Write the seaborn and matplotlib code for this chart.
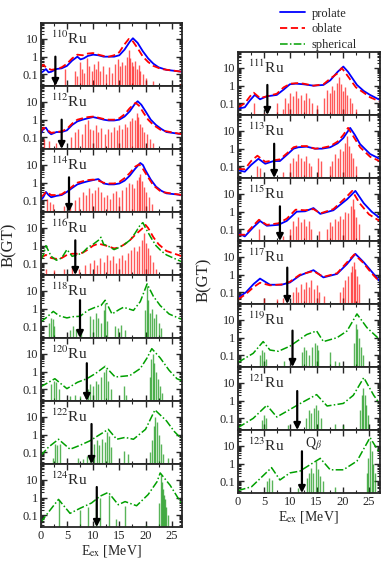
import matplotlib
matplotlib.use("Agg")
import matplotlib.pyplot as plt
import matplotlib.ticker as mticker
from matplotlib.lines import Line2D
import pandas as pd
import seaborn as sns

# ---- data: (E_ex [MeV], B(GT)) ----
ru110_prolate = [(0,0.12),(0.5,0.15),(1,0.2),(1.5,0.13),(2,0.14),(3,0.2),(4,0.22),(5,0.3),(6,0.6),(7,1.0),(7.6,0.7),(8.2,0.8),(9,1.1),(10,1.3),(11,1.2),(12,1.0),(13,1.0),(14,1.0),(15,1.2),(16,2.5),(17,7),(17.6,11),(18.5,6),(19.5,2),(20.5,0.8),(21.5,0.4),(22.5,0.25),(24,0.18),(27,0.14)]
ru110_oblate = [(0,0.25),(0.5,0.35),(1,0.25),(2,0.18),(3,0.2),(4,0.25),(5,0.4),(6,0.8),(7,1.3),(8,1.2),(9,1.5),(10,1.6),(11,1.3),(12,1.1),(13,1.0),(14,1.2),(15,1.8),(16,5),(16.8,10),(17.5,8),(18.5,3),(19.5,1),(20.5,0.5),(21.5,0.3),(23,0.2),(27,0.14)]
ru110_bars = [(2.8,0.03),(4.6,0.2),(6.6,0.15),(7.0,0.08),(7.5,0.5),(7.8,0.2),(8.3,0.12),(8.9,0.8),(9.3,0.3),(9.8,0.15),(10.2,0.4),(10.6,0.2),(11.0,0.6),(11.4,0.15),(11.9,0.3),(12.5,0.1),(13.0,0.25),(13.6,0.12),(14.2,0.4),(14.8,0.7),(15.2,0.3),(15.6,0.5),(16.0,0.35),(16.4,1.0),(16.8,2.4),(17.1,0.8),(17.4,0.5),(17.7,0.3),(18.0,0.6),(18.3,0.2),(18.7,0.35),(19.0,0.15),(19.5,0.1),(20.0,0.06),(21.5,0.04),(26.5,0.03)]
ru110_qb = (2.8, 1.0)

ru112_prolate = [(0,0.15),(0.5,0.3),(1,0.35),(1.5,0.2),(2,0.15),(3,0.2),(4,0.2),(5,0.25),(6,0.5),(7,0.8),(8,1.0),(9,1.2),(10,1.4),(11,1.2),(12,1.0),(13,0.9),(14,0.9),(15,1.0),(16,1.5),(17,3),(18,8),(18.5,11),(19.2,7),(20,3),(21,1),(22,0.5),(23,0.3),(24,0.2),(27,0.15)]
ru112_oblate = [(0,0.2),(0.5,0.35),(1,0.3),(2,0.18),(3,0.2),(4,0.22),(5,0.3),(6,0.6),(7,1.0),(8,1.2),(9,1.4),(10,1.5),(11,1.3),(12,1.1),(13,1.0),(14,1.0),(15,1.2),(16,2),(17,4.5),(18.1,9),(18.8,6),(19.6,2.5),(20.5,1.0),(21.5,0.5),(23,0.25),(27,0.15)]
ru112_bars = [(0.6,0.08),(1.5,0.06),(3.0,0.05),(5.8,0.1),(6.5,0.2),(7.2,0.3),(7.8,0.15),(8.5,0.6),(9.0,1.0),(9.4,0.3),(10.0,0.25),(10.5,0.5),(11.0,0.2),(11.6,0.35),(12.2,0.15),(12.8,0.3),(13.4,0.2),(14.0,0.4),(14.5,0.25),(15.0,0.5),(15.5,0.3),(16.0,0.6),(16.5,0.4),(17.0,0.8),(17.5,1.2),(17.9,1.0),(18.3,2.5),(18.6,1.5),(19.0,0.6),(19.4,0.4),(19.8,0.2),(20.3,0.15),(20.8,0.08),(21.5,0.05)]
ru112_qb = (4.0, 1.0)

ru114_prolate = [(0,0.1),(0.5,0.15),(1,0.3),(1.5,0.2),(2,0.15),(3,0.18),(4,0.2),(5,0.3),(6,0.5),(7,0.8),(8,1.0),(9,1.2),(10,1.4),(11,1.6),(11.5,1.2),(12,0.9),(13,0.8),(14,0.8),(15,0.9),(16,1.3),(17,2.5),(18,6),(19,13),(19.5,10),(20,5),(21,1.5),(22,0.6),(23,0.35),(24,0.25),(27,0.2)]
ru114_oblate = [(0,0.15),(0.5,0.2),(1,0.3),(1.5,0.25),(2,0.2),(3,0.2),(4,0.22),(5,0.35),(6,0.6),(7,1.0),(8,1.2),(9,1.4),(10,1.5),(11,1.3),(12,1.0),(13,0.9),(14,0.9),(15,1.1),(16,1.8),(17,3.5),(18,8),(18.8,11),(19.5,6),(20.5,2),(21.5,0.7),(23,0.3),(27,0.2)]
ru114_bars = [(1.2,0.12),(1.8,0.08),(2.4,0.06),(4.5,0.05),(5.5,0.05),(6.5,0.1),(7.3,0.15),(8.0,0.3),(8.6,0.2),(9.2,0.5),(9.8,0.25),(10.4,0.4),(11.0,0.6),(11.5,0.3),(12.0,0.15),(12.6,0.2),(13.2,0.12),(13.8,0.25),(14.4,0.35),(15.0,0.15),(15.6,0.4),(16.2,0.6),(16.8,1.0),(17.4,0.8),(17.8,0.5),(18.3,1.5),(18.7,2.0),(19.0,3.0),(19.3,1.2),(19.7,0.6),(20.1,0.3),(20.6,0.15),(21.2,0.06)]
ru114_qb = (5.4, 2.0)

ru116_oblate = [(0,0.2),(0.5,0.25),(1,0.3),(2,0.2),(3,0.18),(4,0.2),(5,0.3),(6,0.35),(7,0.35),(8,0.4),(9,0.6),(10,1.0),(11,1.3),(12,1.1),(13,0.9),(14,0.7),(15,0.8),(16,1.2),(17,2),(18,4),(19.5,10),(20,15),(20.5,10),(21.5,3),(22.5,1.2),(24,0.5),(27,0.25)]
ru116_spherical = [(0,0.15),(0.5,0.3),(1,1.0),(1.5,0.5),(2,0.25),(3,0.15),(4,0.2),(5,0.6),(5.5,0.4),(6,0.25),(7,0.3),(8,0.4),(9,0.8),(10,1.2),(11,2),(11.5,3),(12,1.2),(13,0.9),(14,0.6),(15,0.8),(16,1.2),(17,2),(18,5),(19,15),(19.5,20),(20,10),(21,3),(22,1.0),(23,0.5),(24,0.3),(27,0.12)]
ru116_bars = [(1.0,0.05),(2.5,0.04),(4.5,0.05),(6.0,0.06),(7.3,0.05),(8.4,0.08),(9.5,0.1),(10.2,0.15),(10.8,0.08),(11.4,0.2),(12.0,0.12),(12.6,0.3),(13.2,0.15),(13.8,0.25),(14.3,0.1),(14.9,0.2),(15.5,0.3),(16.0,0.15),(16.6,0.4),(17.2,0.6),(17.8,0.8),(18.3,0.5),(18.8,1.0),(19.3,2.0),(19.7,5.0),(20.0,1.5),(20.4,0.7),(20.9,0.3),(21.4,0.12),(22.0,0.05)]
ru116_qb = (6.6, 2.0)

ru118_spherical = [(0,0.18),(1,0.3),(2.4,0.7),(3.5,0.4),(5,0.3),(6,0.35),(7.5,0.37),(9,0.8),(10.4,1.2),(11.5,1.5),(12.3,3),(13.6,0.5),(15,0.9),(15.8,1.2),(17.7,0.8),(19,2.5),(20.3,25),(21.5,5),(22.8,1.5),(24.5,0.5),(26.6,0.27),(27,0.25)]
ru118_bars = [(1.5,0.15),(1.9,0.3),(2.3,0.25),(2.6,0.1),(5.6,0.06),(6.2,0.1),(6.8,0.07),(7.6,0.05),(9.5,0.4),(10.0,0.25),(10.5,0.6),(11.0,0.3),(11.5,0.15),(12.0,0.8),(12.3,2.0),(12.7,0.2),(14.2,0.1),(14.7,0.08),(15.3,0.12),(16.0,0.06),(19.9,0.8),(20.2,20.0),(20.5,3.0),(20.8,0.6),(21.2,1.0),(21.6,0.3),(22.0,0.5),(22.5,0.15),(23.0,0.08)]
ru118_qb = (7.5, 3.0)

ru120_spherical = [(0,0.14),(1.5,0.25),(2.7,0.4),(5,0.11),(7,0.25),(8.8,0.4),(10.5,0.8),(12.3,2),(14.2,0.5),(17,0.6),(19,1.5),(20.3,6),(21.2,20),(22.8,6),(24.5,1.2),(26,0.4),(27,0.3)]
ru120_bars = [(2.0,0.2),(2.5,0.3),(3.0,0.25),(3.4,0.1),(5.5,0.04),(6.5,0.05),(7.5,0.04),(9.0,0.1),(9.5,0.2),(10.0,0.15),(10.5,0.3),(11.0,0.2),(11.5,0.5),(12.0,1.0),(12.4,1.5),(12.8,0.3),(13.5,0.1),(15.8,0.15),(16.3,0.05),(20.8,0.5),(21.1,5.0),(21.4,10.0),(21.7,3.0),(22.0,1.0),(22.3,0.4),(22.7,0.15),(23.2,0.06)]
ru120_qb = (8.8, 3.0)

ru122_spherical = [(0,0.065),(1.5,0.2),(3.4,0.55),(5.6,0.15),(7.5,0.25),(9.4,0.45),(11,0.9),(12.9,2),(14.5,0.55),(16.1,0.7),(17.7,0.55),(20,2),(21.8,25),(24,6),(25.5,1.5),(26.6,0.7),(27,0.6)]
ru122_bars = [(2.4,0.05),(2.8,0.3),(3.2,0.25),(3.6,0.3),(7.2,0.05),(8.0,0.04),(8.8,0.06),(9.5,0.05),(10.2,0.3),(10.7,0.5),(11.2,0.25),(11.7,0.6),(12.2,0.4),(12.6,1.5),(13.0,0.8),(13.4,0.2),(15.8,0.12),(16.6,0.08),(20.8,0.1),(21.2,0.5),(21.6,3.0),(21.9,10.0),(22.2,5.0),(22.5,1.0),(22.9,0.3),(23.4,0.08),(24.2,0.05)]
ru122_qb = (9.7, 4.0)

ru124_spherical = [(0,0.04),(1.8,0.2),(3.4,0.8),(5.6,0.13),(7.5,0.25),(9.7,0.5),(11.3,1.2),(12.9,2),(14.8,0.4),(16.1,0.6),(18.3,0.35),(20.5,1.5),(22.2,8),(22.8,25),(24.7,5),(26,1.2),(27,0.4)]
ru124_bars = [(3.5,0.7),(7.5,0.2),(9.0,0.3),(10.6,0.5),(11.4,1.0),(13.0,1.5),(14.4,0.06),(16.0,0.35),(20.0,0.03),(22.6,0.5),(22.9,20.0),(23.1,8.0),(23.3,3.0),(23.5,1.5),(23.7,0.8),(23.9,0.3),(24.2,0.1)]
ru124_qb = (10.7, 4.0)

ru111_prolate = [(0,0.05),(1.3,0.06),(2.3,0.15),(3.2,0.3),(4.2,0.17),(5.5,0.25),(7.4,0.3),(8.7,0.6),(9.9,1.2),(11,1.3),(12.5,1.2),(14.4,1.0),(16.3,1.1),(17.6,2),(19,6),(20.1,12),(21,6),(22.7,1.1),(24,0.5),(25.2,0.3),(27,0.16)]
ru111_oblate = [(0,0.06),(1.3,0.1),(2.3,0.25),(3,0.4),(4.2,0.2),(5.5,0.25),(7.4,0.35),(8.7,0.8),(10,1.3),(11.5,1.4),(12.5,1.3),(14.4,1.0),(16.3,1.2),(17.6,2.5),(19,5),(19.8,10),(20.8,4),(22.5,0.8),(24,0.4),(25.2,0.22),(27,0.13)]
ru111_bars = [(3.0,0.1),(5.0,0.03),(7.5,0.1),(8.5,0.05),(9.0,0.2),(9.5,0.1),(10.0,0.4),(10.5,0.25),(11.0,0.5),(11.5,0.2),(12.0,0.3),(12.5,0.15),(13.0,0.4),(13.5,0.2),(14.2,0.1),(15.0,0.08),(16.5,0.2),(17.0,0.6),(17.5,0.4),(18.0,1.0),(18.4,0.6),(18.8,1.5),(19.2,3.0),(19.6,1.2),(20.0,0.5),(20.4,0.8),(20.8,0.3),(21.3,0.2),(21.8,0.1),(22.5,0.05)]
ru111_qb = (5.6, 1.1)

ru113_prolate = [(0,0.06),(1.3,0.05),(2.5,0.12),(3.9,0.27),(5.2,0.14),(6.8,0.2),(8,0.2),(9.5,0.5),(10.6,1.0),(11.5,1.2),(13.1,1.3),(14.7,1.0),(16,1.0),(17.6,1.2),(19,2),(20.1,4),(21.4,15),(22.3,6),(23.3,1.8),(25.2,0.5),(27,0.27)]
ru113_oblate = [(0,0.07),(1.3,0.07),(2.5,0.2),(3.7,0.4),(5.2,0.18),(6.8,0.22),(8,0.25),(9.5,0.6),(10.6,1.2),(11.5,1.4),(13.1,1.4),(14.7,1.0),(16,1.1),(17.6,1.4),(19,2.5),(20.1,6),(21,15),(22,5),(23.3,1.2),(25.2,0.35),(27,0.2)]
ru113_bars = [(3.6,0.1),(4.2,0.08),(8.5,0.05),(10.0,0.15),(10.5,0.3),(11.0,0.2),(11.5,0.5),(12.0,0.3),(12.5,0.2),(13.0,0.4),(13.5,0.15),(14.0,0.1),(15.2,0.3),(15.8,0.2),(17.5,0.1),(18.0,0.2),(18.5,0.5),(19.0,0.3),(19.5,1.0),(20.0,0.7),(20.4,2.0),(20.8,5.0),(21.1,1.5),(21.5,0.6),(22.0,0.3),(22.5,0.1)]
ru113_qb = (6.9, 1.9)

ru115_prolate = [(0,0.06),(1.3,0.04),(2.8,0.12),(4.2,0.3),(5.5,0.16),(7.7,0.18),(9.3,0.3),(11.2,1.0),(12.8,1.05),(14.4,1.6),(15.7,0.75),(18.2,1.2),(20.8,5),(22.4,15),(24,3),(25.5,1.0),(27,0.45)]
ru115_oblate = [(0,0.05),(1.3,0.05),(2.8,0.15),(4.0,0.35),(5.5,0.18),(7.7,0.22),(9.3,0.4),(11,1.3),(12.8,1.2),(14.4,1.4),(15.7,0.8),(18.2,1.4),(20.5,6),(21.8,15),(23.2,3),(25,0.7),(27,0.3)]
ru115_bars = [(4.0,0.1),(8.5,0.04),(10.0,0.1),(10.5,0.3),(11.0,0.15),(11.5,0.5),(12.0,0.25),(12.5,0.4),(13.0,0.15),(13.5,0.3),(14.0,0.1),(15.5,0.08),(17.0,0.1),(17.5,0.25),(18.0,0.15),(18.5,0.4),(19.0,0.3),(19.5,0.6),(20.0,0.4),(20.5,1.0),(21.0,0.8),(21.5,2.0),(21.9,5.0),(22.2,1.5),(22.6,0.5),(23.0,0.2)]
ru115_qb = (8.0, 2.0)

ru117_prolate = [(0,0.05),(1.5,0.1),(3,0.3),(4.2,0.6),(6.1,0.27),(8.3,0.27),(9.9,0.36),(11.8,0.9),(14.4,1.8),(16.3,0.7),(18.9,1.1),(20.8,4),(22.4,15),(24,5),(25.5,1.5),(27,0.45)]
ru117_oblate = [(0,0.04),(1.5,0.08),(3,0.2),(4.2,0.35),(6.1,0.25),(8.3,0.28),(9.9,0.4),(11.8,1.0),(14.4,1.6),(16.3,0.75),(18.9,1.2),(20.8,5),(22.2,14),(23.8,5),(25.5,1.2),(27,0.4)]
ru117_bars = [(5.0,0.05),(7.5,0.04),(8.5,0.05),(10.5,0.1),(11.0,0.2),(11.5,0.1),(12.0,0.3),(12.5,0.15),(13.0,0.4),(13.5,0.2),(14.0,0.5),(14.5,0.15),(15.0,0.25),(15.5,0.1),(16.5,0.06),(19.5,0.1),(20.0,0.2),(20.5,0.5),(21.0,0.8),(21.5,1.5),(21.8,3.0),(22.1,5.0),(22.4,2.0),(22.7,0.8),(23.1,0.3)]
ru117_qb = (9.4, 2.5)

ru119_spherical = [(0,0.04),(2.9,0.13),(4.8,0.6),(6.1,0.2),(7.7,0.17),(9.9,0.33),(13.1,1.5),(15,2.4),(16.3,0.6),(18.9,1.0),(20.8,2.4),(22.7,22),(24.6,3.7),(27,0.8)]
ru119_bars = [(4.2,0.1),(4.6,0.2),(5.0,0.15),(5.4,0.06),(8.8,0.05),(12.2,0.15),(12.6,0.3),(13.0,0.2),(13.6,0.1),(14.2,0.3),(14.6,0.5),(15.0,0.4),(15.3,0.2),(17.6,0.15),(18.5,0.05),(19.2,0.04),(22.2,0.5),(22.5,6.0),(22.8,3.0),(23.1,1.0),(23.5,0.3),(23.9,0.1)]
ru119_qb = (10.4, 2.5)

ru121_spherical = [(0,0.03),(2.9,0.1),(5.5,0.55),(7.4,0.12),(9.3,0.25),(11.9,0.7),(15,2.2),(17,0.5),(20.1,0.7),(22,2),(24,20),(25.9,2),(27,0.7)]
ru121_bars = [(4.5,0.08),(5.0,0.15),(5.4,0.1),(9.5,0.04),(13.0,0.1),(13.5,0.3),(14.0,0.2),(14.5,0.4),(14.9,0.6),(15.3,0.3),(15.8,0.1),(18.5,0.05),(20.0,0.04),(23.2,0.3),(23.6,2.0),(23.9,5.0),(24.2,2.0),(24.5,0.6),(24.9,0.15)]
ru121_qb = (11.3, 3.5)

ru123_spherical = [(0,0.03),(2.6,0.05),(6.4,0.6),(8,0.12),(9.9,0.3),(11.8,0.38),(15.7,2),(17.6,0.45),(20.1,0.45),(22.7,1.4),(25.2,30),(27,4)]
ru123_bars = [(5.6,0.1),(6.0,0.15),(6.4,0.12),(11.5,0.04),(13.2,0.15),(13.6,0.3),(14.0,0.6),(14.4,0.3),(14.8,1.5),(15.2,0.5),(15.6,0.2),(16.2,0.1),(18.6,0.05),(24.6,0.3),(24.9,2.0),(25.2,20.0),(25.5,5.0),(25.8,1.0),(26.1,0.3)]
ru123_qb = (12.2, 5.0)

left_panels = [
    ("110", [("prolate", ru110_prolate), ("oblate", ru110_oblate)], ru110_bars, "red", ru110_qb),
    ("112", [("prolate", ru112_prolate), ("oblate", ru112_oblate)], ru112_bars, "red", ru112_qb),
    ("114", [("prolate", ru114_prolate), ("oblate", ru114_oblate)], ru114_bars, "red", ru114_qb),
    ("116", [("oblate", ru116_oblate), ("spherical", ru116_spherical)], ru116_bars, "red", ru116_qb),
    ("118", [("spherical", ru118_spherical)], ru118_bars, "green", ru118_qb),
    ("120", [("spherical", ru120_spherical)], ru120_bars, "green", ru120_qb),
    ("122", [("spherical", ru122_spherical)], ru122_bars, "green", ru122_qb),
    ("124", [("spherical", ru124_spherical)], ru124_bars, "green", ru124_qb),
]
right_panels = [
    ("111", [("prolate", ru111_prolate), ("oblate", ru111_oblate)], ru111_bars, "red", ru111_qb),
    ("113", [("prolate", ru113_prolate), ("oblate", ru113_oblate)], ru113_bars, "red", ru113_qb),
    ("115", [("prolate", ru115_prolate), ("oblate", ru115_oblate)], ru115_bars, "red", ru115_qb),
    ("117", [("prolate", ru117_prolate), ("oblate", ru117_oblate)], ru117_bars, "red", ru117_qb),
    ("119", [("spherical", ru119_spherical)], ru119_bars, "green", ru119_qb),
    ("121", [("spherical", ru121_spherical)], ru121_bars, "green", ru121_qb),
    ("123", [("spherical", ru123_spherical)], ru123_bars, "green", ru123_qb),
]

styles = {
    "prolate": dict(color="#0000ff", linestyle="-", lw=1.3),
    "oblate": dict(color="#ff0000", linestyle=(0, (4, 2)), lw=1.3),
    "spherical": dict(color="#00a000", linestyle=(0, (5, 1.5, 1, 1.5)), lw=1.1),
}
bar_colors = {"red": "#ff0000", "green": "#008c00"}

sns.set_style("ticks")
plt.rcParams["font.family"] = ["Liberation Serif", "DejaVu Serif"]
plt.rcParams["mathtext.fontset"] = "stix"

W, H = 382, 566
fig = plt.figure(figsize=(W / 100, H / 100), dpi=100)
YLO, YHI = 0.022, 80


def draw_panel(ax, mass, curves, bars, bcol, qb, bottom):
    df_b = pd.DataFrame(bars, columns=["E", "B"])
    ax.vlines(df_b["E"], YLO / 10, df_b["B"], color=bar_colors[bcol], lw=1.0, alpha=0.65)
    for name, pts in curves:
        df_c = pd.DataFrame(pts, columns=["E", "B"])
        st = styles[name]
        sns.lineplot(data=df_c, x="E", y="B", ax=ax, color=st["color"],
                     linestyle=st["linestyle"], lw=st["lw"], sort=False)
    ax.annotate("", xy=(qb[0], YLO), xytext=(qb[0], qb[1]),
                arrowprops=dict(arrowstyle="-|>", color="black", lw=1.6,
                                mutation_scale=10, shrinkA=0, shrinkB=0))
    ax.text(0.07, 0.9, r"$^{%s}$Ru" % mass, transform=ax.transAxes,
            fontsize=11, va="top", ha="left")
    ax.set_yscale("log")
    ax.set_xlim(0, 27)
    ax.set_ylim(YLO, YHI)
    ax.xaxis.set_major_locator(mticker.MultipleLocator(5))
    ax.xaxis.set_minor_locator(mticker.MultipleLocator(2.5))
    ax.yaxis.set_major_locator(mticker.FixedLocator([0.1, 1, 10]))
    ax.yaxis.set_major_formatter(mticker.FixedFormatter(["0.1", "1", "10"]))
    ax.tick_params(which="both", direction="in", top=True, right=True, labelsize=9, pad=2)
    ax.tick_params(which="major", length=4, width=1)
    ax.tick_params(which="minor", length=2, width=0.8)
    ax.set_xlabel("")
    ax.set_ylabel("")
    for s in ax.spines.values():
        s.set_linewidth(1.3)
    if not bottom:
        ax.tick_params(labelbottom=False)
    else:
        ax.set_xticks([0, 5, 10, 15, 20, 25])
        ax.set_xlabel(r"E$_{\rm ex}$ [MeV]", fontsize=10, labelpad=1)


def add_column(panels, x0, top, ph):
    axes = []
    for i, (mass, curves, bars, bcol, qb) in enumerate(panels):
        t = top + i * ph
        ax = fig.add_axes([x0 / W, 1 - (t + ph) / H, 141.5 / W, ph / H])
        draw_panel(ax, mass, curves, bars, bcol, qb, i == len(panels) - 1)
        axes.append(ax)
    return axes


left_axes = add_column(left_panels, 40.7, 23, 63)
right_axes = add_column(right_panels, 238, 52, 63)

right_axes[-1].text(12.8, 12, r"Q$_\beta$", fontsize=10, ha="left", va="center")

fig.text(9 / W, 1 - 245 / H, "B(GT)", rotation=90, fontsize=12, ha="center", va="center")
fig.text(204 / W, 1 - 280 / H, "B(GT)", rotation=90, fontsize=12, ha="center", va="center")

handles = [Line2D([], [], **styles[k]) for k in ["prolate", "oblate", "spherical"]]
fig.legend(handles, ["prolate", "oblate", "spherical"], loc="upper left",
           bbox_to_anchor=(272 / W, 1.0), frameon=False, fontsize=9,
           handlelength=2.0, labelspacing=0.3, handletextpad=0.6, borderaxespad=0.2)

fig.savefig("out.png", dpi=100)
